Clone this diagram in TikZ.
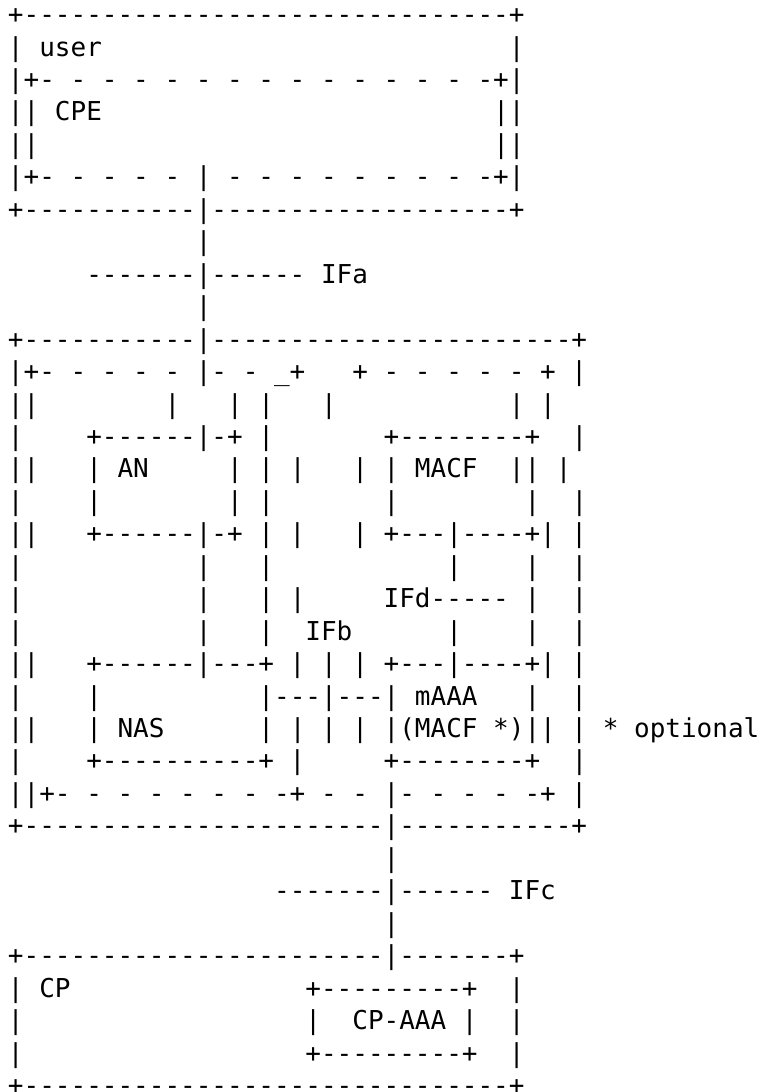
\documentclass[tikz,border=0pt]{standalone}
\usepackage{fontspec}
\setmonofont{DejaVu Sans Mono}

\begin{document}
\begin{tikzpicture}[
    x=1pt, y=1pt,
    asciirow/.style={anchor=base west,inner sep=0pt,outer sep=0pt,font=\ttfamily\fontsize{13}{16}\selectfont}
]
\useasboundingbox (0,0) rectangle (379,-546);
\foreach \txt [count=\r] in {
  {+-------------------------------+},
  {|~user~~~~~~~~~~~~~~~~~~~~~~~~~~|},
  {|+-~-~-~-~-~-~-~-~-~-~-~-~-~-~-+|},
  {||~CPE~~~~~~~~~~~~~~~~~~~~~~~~~||},
  {||~~~~~~~~~~~~~~~~~~~~~~~~~~~~~||},
  {|+-~-~-~-~-~|~-~-~-~-~-~-~-~-~-+|},
  {+-----------|-------------------+},
  {~~~~~~~~~~~~|},
  {~~~~~-------|------~IFa},
  {~~~~~~~~~~~~|},
  {+-----------|-----------------------+},
  {|+-~-~-~-~-~|-~-~\_+~~~+~-~-~-~-~-~+~|},
  {||~~~~~~~~|~~~|~|~~~|~~~~~~~~~~~|~|},
  {|~~~~+------|-+~|~~~~~~~+--------+~~|},
  {||~~~|~AN~~~~~|~|~|~~~|~|~MACF~~||~|},
  {|~~~~|~~~~~~~~|~|~~~~~~~|~~~~~~~~|~~|},
  {||~~~+------|-+~|~|~~~|~+---|----+|~|},
  {|~~~~~~~~~~~|~~~|~~~~~~~~~~~|~~~~|~~|},
  {|~~~~~~~~~~~|~~~|~|~~~~~IFd-----~|~~|},
  {|~~~~~~~~~~~|~~~|~~IFb~~~~~~|~~~~|~~|},
  {||~~~+------|---+~|~|~|~+---|----+|~|},
  {|~~~~|~~~~~~~~~~|---|---|~mAAA~~~|~~|},
  {||~~~|~NAS~~~~~~|~|~|~|~|(MACF~*)||~|~*~optional},
  {|~~~~+----------+~|~~~~~+--------+~~|},
  {||+-~-~-~-~-~-~-~-+~-~-~|-~-~-~-~-+~|},
  {+-----------------------|-----------+},
  {~~~~~~~~~~~~~~~~~~~~~~~~|},
  {~~~~~~~~~~~~~~~~~-------|------~IFc},
  {~~~~~~~~~~~~~~~~~~~~~~~~|},
  {+-----------------------|-------+},
  {|~CP~~~~~~~~~~~~~~~+---------+~~|},
  {|~~~~~~~~~~~~~~~~~~|~~CP-AAA~|~~|},
  {|~~~~~~~~~~~~~~~~~~+---------+~~|},
  {+-------------------------------+}
}{
  \node[asciirow] (row\r) at (4,{-11.8-(\r-1)*16.225}) {\txt};
}
\end{tikzpicture}
\end{document}
